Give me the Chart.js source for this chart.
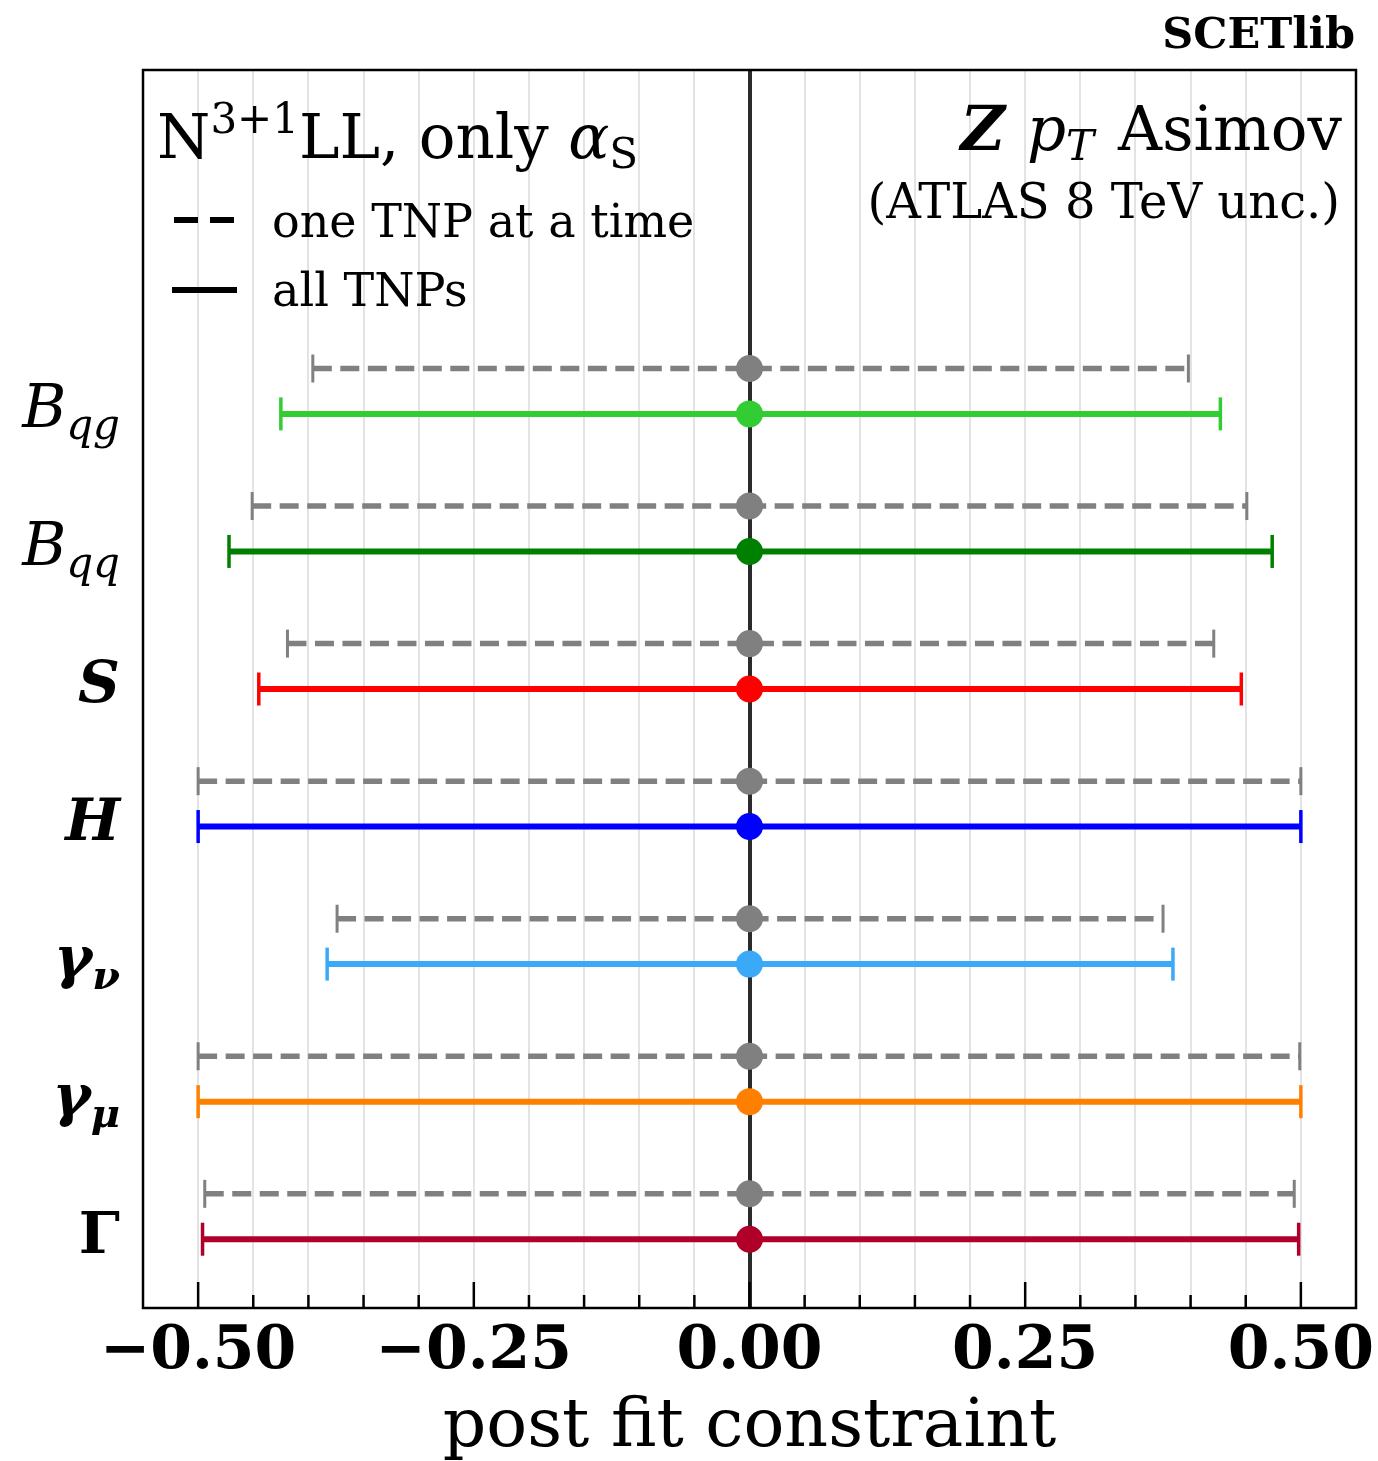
<!DOCTYPE html>
<html>
<head>
<meta charset="utf-8">
<script src="https://cdn.jsdelivr.net/npm/chart.js@4"></script>
<style>
  html, body { margin: 0; padding: 0; background: #fff; }
  #wrap { width: 1378px; height: 1461px; }
</style>
</head>
<body>
<div id="wrap"><canvas id="chart" width="1378" height="1461"></canvas></div>
<script>
// ---- data (top to bottom, as in the figure) ----
const labelMain = ["B", "B", "S", "H", "γ", "γ", "Γ"];
const labelSub = ["qg", "qq", "", "", "ν", "μ", ""];
const colors = ["#32cd32", "#008000", "#ff0000", "#0000ff", "#3aa9f7", "#ff8000", "#b0002a"];
const centers = [0, 0, 0, 0, 0, 0, 0];
// one TNP at a time (dashed)
const oneLo = [-0.396, -0.451, -0.419, -0.500, -0.374, -0.500, -0.494];
const oneHi = [0.398, 0.451, 0.421, 0.500, 0.375, 0.499, 0.494];
// all TNPs (solid)
const allLo = [-0.425, -0.472, -0.445, -0.500, -0.383, -0.500, -0.496];
const allHi = [0.427, 0.474, 0.446, 0.500, 0.384, 0.500, 0.498];
const xTicks = [-0.5, -0.25, 0, 0.25, 0.5];

const SERIF = "'DejaVu Serif', serif";
const GRAY = "#808080";
const n = labelMain.length;
const dashShift = 0.33;

const datasets = [];
for (let k = 0; k < n; k++) {
  const y = n - 1 - k;
  // center dots on top
  datasets.push({
    data: [{ x: centers[k], y: y + dashShift }],
    pointRadius: 13.5, pointBackgroundColor: GRAY, pointBorderWidth: 0, order: 0
  });
  datasets.push({
    data: [{ x: centers[k], y: y }],
    pointRadius: 13.5, pointBackgroundColor: colors[k], pointBorderWidth: 0, order: 0
  });
  // error bars
  datasets.push({
    data: [{ x: oneLo[k], y: y + dashShift }, { x: oneHi[k], y: y + dashShift }],
    showLine: true, borderColor: GRAY, borderWidth: 5.5, borderDash: [19, 8.5],
    pointStyle: "line", rotation: 90, pointRadius: 14, pointBorderWidth: 3,
    pointBorderColor: GRAY, order: 1
  });
  datasets.push({
    data: [{ x: allLo[k], y: y }, { x: allHi[k], y: y }],
    showLine: true, borderColor: colors[k], borderWidth: 6,
    pointStyle: "line", rotation: 90, pointRadius: 16.5, pointBorderWidth: 3.5,
    pointBorderColor: colors[k], order: 1
  });
}

function isMajor(v) {
  return xTicks.some(t => Math.abs(t - v) < 1e-6);
}

function drawRuns(ctx, runs, x, y, align) {
  let total = 0;
  runs.forEach(r => { ctx.font = r.f; r.w = ctx.measureText(r.t).width; total += r.w + (r.gap || 0); });
  let cx = align === "right" ? x - total : x;
  ctx.textAlign = "left";
  ctx.textBaseline = "alphabetic";
  runs.forEach(r => {
    ctx.font = r.f;
    ctx.fillText(r.t, cx, y + (r.dy || 0));
    cx += r.w + (r.gap || 0);
  });
}

const decorations = {
  id: "decorations",
  afterDraw(chart) {
    const { ctx, chartArea: a, scales } = chart;
    ctx.save();
    ctx.fillStyle = "#000";
    ctx.strokeStyle = "#000";

    // frame
    ctx.lineWidth = 2.5;
    ctx.strokeRect(a.left, a.top, a.right - a.left, a.bottom - a.top);

    // inward ticks on the bottom axis
    scales.x.ticks.forEach(t => {
      if (t.value < -0.5 - 1e-6 || t.value > 0.5 + 1e-6) return;
      const px = scales.x.getPixelForValue(t.value);
      const len = isMajor(t.value) ? 26 : 13;
      ctx.lineWidth = 2.5;
      ctx.beginPath();
      ctx.moveTo(px, a.bottom);
      ctx.lineTo(px, a.bottom - len);
      ctx.stroke();
    });

    // category labels
    for (let k = 0; k < n; k++) {
      const py = scales.y.getPixelForValue(n - 1 - k + dashShift / 2) + 36;
      let main;
      if (labelMain[k] === "B") main = "italic 60px " + SERIF;
      else if (labelMain[k] === "Γ") main = "bold 58px " + SERIF;
      else main = "italic bold 58px " + SERIF;
      const runs = [{ t: labelMain[k], f: main }];
      if (labelSub[k]) {
        const sf = labelMain[k] === "B" ? "italic 42px " + SERIF : "italic bold 40px " + SERIF;
        runs.push({ t: labelSub[k], f: sf, dy: 12 });
      }
      drawRuns(ctx, runs, 120, py, "right");
    }

    // legend block
    drawRuns(ctx, [
      { t: "N", f: "61px " + SERIF },
      { t: "3+1", f: "42px " + SERIF, dy: -25 },
      { t: "LL, only ", f: "61px " + SERIF },
      { t: "α", f: "italic 61px " + SERIF },
      { t: "S", f: "42px " + SERIF, dy: 10 }
    ], 157, 158, "left");
    ctx.lineWidth = 6;
    ctx.setLineDash([24, 12]);
    ctx.beginPath(); ctx.moveTo(174, 220); ctx.lineTo(236, 220); ctx.stroke();
    ctx.setLineDash([]);
    ctx.beginPath(); ctx.moveTo(172, 290); ctx.lineTo(237, 290); ctx.stroke();
    drawRuns(ctx, [{ t: "one TNP at a time", f: "46px " + SERIF }], 272, 237, "left");
    drawRuns(ctx, [{ t: "all TNPs", f: "46px " + SERIF }], 272, 306, "left");

    // right annotation
    drawRuns(ctx, [
      { t: "Z", f: "italic bold 61px " + SERIF, gap: 22 },
      { t: "p", f: "italic 61px " + SERIF },
      { t: "T", f: "italic 42px " + SERIF, dy: 10, gap: 24 },
      { t: "Asimov", f: "61px " + SERIF }
    ], 1342, 150, "right");
    drawRuns(ctx, [{ t: "(ATLAS 8 TeV unc.)", f: "48px " + SERIF }], 1340, 218, "right");

    // top-right tag
    drawRuns(ctx, [{ t: "SCETlib", f: "bold 43px " + SERIF }], 1355, 48, "right");
    ctx.restore();
  }
};

new Chart(document.getElementById("chart"), {
  type: "scatter",
  data: { datasets },
  options: {
    responsive: false,
    animation: false,
    devicePixelRatio: 1,
    layout: { padding: { left: 143, top: 70, right: 22, bottom: 0 } },
    plugins: { legend: { display: false }, tooltip: { enabled: false } },
    scales: {
      x: {
        type: "linear",
        position: "bottom",
        min: -0.55,
        max: 0.55,
        afterFit(scale) { scale.height = 153; },
        border: { display: false },
        grid: {
          drawTicks: false,
          color: c => (Math.abs(c.tick.value) < 1e-6 ? "#2a2a2a" : "#e3e3e3"),
          lineWidth: c => (Math.abs(c.tick.value) < 1e-6 ? 4 : 2)
        },
        ticks: {
          stepSize: 0.05,
          autoSkip: false,
          maxRotation: 0,
          padding: 8,
          color: "#000",
          font: { family: SERIF, size: 60, weight: "bold" },
          callback: v => (isMajor(v) && Math.abs(v) <= 0.5 + 1e-6 ? v.toFixed(2).replace("-", "−") : "")
        },
        title: {
          display: true,
          text: "post fit constraint",
          color: "#000",
          font: { family: SERIF, size: 68 },
          padding: { top: 0, bottom: -8 }
        }
      },
      y: {
        type: "linear",
        display: false,
        min: -0.5,
        max: 8.5
      }
    }
  },
  plugins: [decorations]
});
</script>
</body>
</html>
